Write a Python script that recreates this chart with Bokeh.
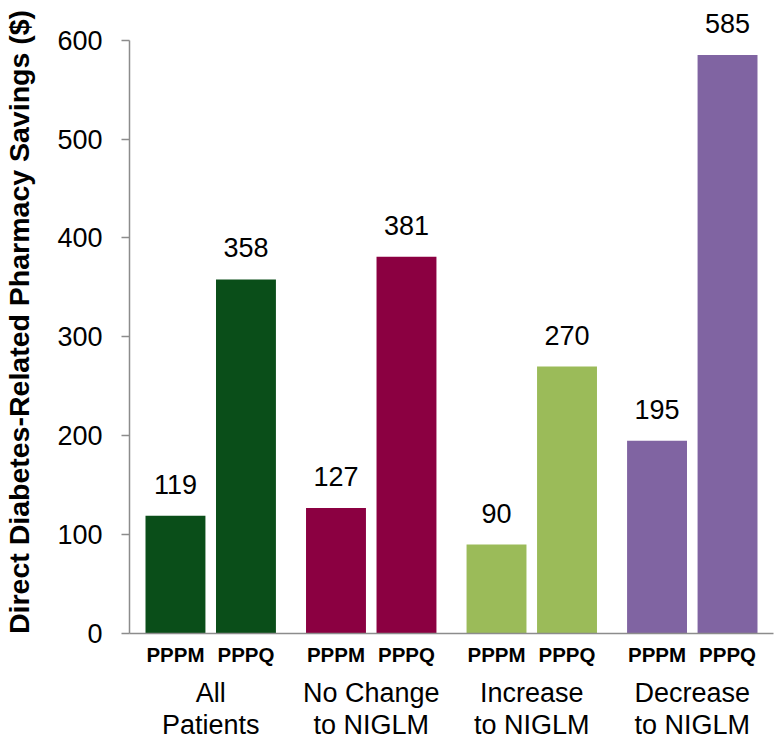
from bokeh.plotting import figure
from bokeh.models import ColumnDataSource, FactorRange, Range1d, LabelSet, FixedTicker
from bokeh.core.properties import value
from bokeh.embed import file_html
from bokeh.resources import INLINE

groups = ["All\nPatients", "No Change\nto NIGLM", "Increase\nto NIGLM", "Decrease\nto NIGLM"]
measures = ["PPPM", "PPPQ"]
pppm = [119, 127, 90, 195]
pppq = [358, 381, 270, 585]
group_colors = ["#0A4E19", "#8B0041", "#9BBB59", "#8064A2"]
y_ticks = [0, 100, 200, 300, 400, 500, 600]

x, vals, cols, labels = [], [], [], []
for g, a, b, c in zip(groups, pppm, pppq, group_colors):
    for m, v in zip(measures, (a, b)):
        x.append((g, m))
        vals.append(v)
        cols.append(c)
        labels.append(str(v))

src = ColumnDataSource(dict(x=x, v=vals, c=cols, t=labels))

FONT = "Liberation Sans"
p = figure(
    width=774, height=743, output_backend="svg", toolbar_location=None,
    x_range=FactorRange(*x, factor_padding=0.0, group_padding=0.277,
                        range_padding=0.152, range_padding_units="absolute"),
    y_range=Range1d(0, 630),
    min_border_left=129, min_border_top=10, min_border_right=1, min_border_bottom=110,
)
p.vbar(x="x", top="v", width=0.85, color="c", source=src, line_color=None)

p.add_layout(LabelSet(x="x", y="v", text="t", source=src, y_offset=22,
                      text_align="center", text_baseline="bottom",
                      text_font=value(FONT), text_font_size=value("27px"), text_color="#000000"))

p.outline_line_color = None
p.xgrid.grid_line_color = None
p.ygrid.grid_line_color = None
p.background_fill_color = "white"
p.border_fill_color = "white"

ax = p.yaxis[0]
ax.ticker = FixedTicker(ticks=y_ticks)
ax.bounds = (0, 600)
ax.axis_line_color = "#8C8C8C"
ax.axis_line_width = 1.5
ax.major_tick_line_color = "#8C8C8C"
ax.major_tick_line_width = 1.5
ax.major_tick_out = 8
ax.major_tick_in = 0
ax.minor_tick_line_color = None
ax.major_label_text_font = FONT
ax.major_label_text_font_size = "27px"
ax.major_label_text_color = "#000000"
ax.major_label_standoff = 19
ax.axis_label = "Direct Diabetes-Related Pharmacy Savings ($)"
ax.axis_label_text_font = FONT
ax.axis_label_text_font_size = "28.5px"
ax.axis_label_text_font_style = "bold"
ax.axis_label_text_color = "#000000"
ax.axis_label_standoff = 19

xa = p.xaxis[0]
xa.axis_line_color = "#8C8C8C"
xa.axis_line_width = 1.5
xa.major_tick_line_color = None
xa.major_tick_out = 0
xa.major_tick_in = 0
xa.minor_tick_line_color = None
xa.separator_line_alpha = 0
xa.major_label_text_font = FONT
xa.major_label_text_font_size = "20.5px"
xa.major_label_text_font_style = "bold"
xa.major_label_text_color = "#000000"
xa.major_label_standoff = 9
xa.group_text_font = FONT
xa.group_text_font_size = "27px"
xa.group_text_font_style = "normal"
xa.group_text_color = "#000000"
xa.group_text_line_height = 1.07

open("out.html", "w").write(file_html(p, INLINE))
